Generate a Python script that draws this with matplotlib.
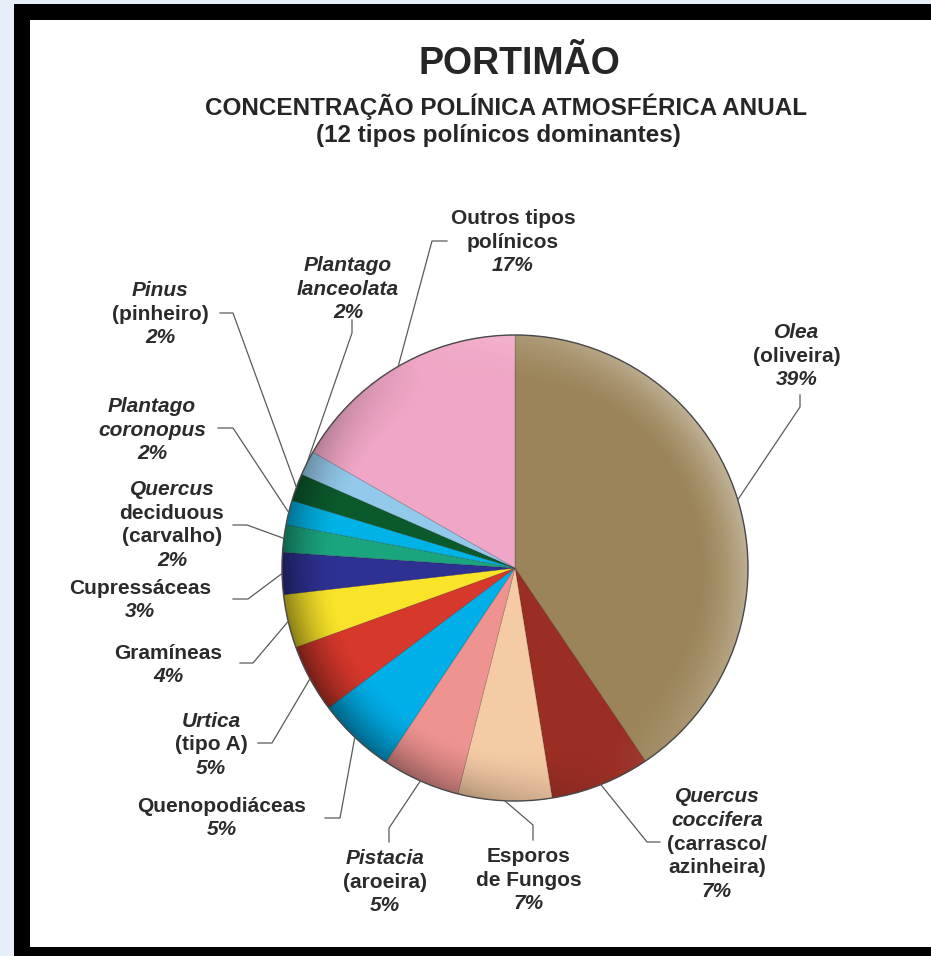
import numpy as np
import matplotlib
matplotlib.use("Agg")
import matplotlib.pyplot as plt
from matplotlib.patches import Rectangle, Circle

plt.rcParams['font.family'] = ['Liberation Sans', 'DejaVu Sans']

W, H = 931, 956

# dados: fatias e rótulos
values = [40.5, 6.9, 6.5, 5.4, 5.4, 4.7, 3.7, 2.9, 1.9, 1.7, 1.9, 1.7, 16.7]
pct_labels = ["39%", "7%", "7%", "5%", "5%", "5%", "4%", "3%", "2%", "2%", "2%", "2%", "17%"]
names = [
    [("Olea", True), ("(oliveira)", False)],
    [("Quercus", True), ("coccifera", True), ("(carrasco/", False), ("azinheira)", False)],
    [("Esporos", False), ("de Fungos", False)],
    [("Pistacia", True), ("(aroeira)", False)],
    [("Quenopodiáceas", False)],
    [("Urtica", True), ("(tipo A)", False)],
    [("Gramíneas", False)],
    [("Cupressáceas", False)],
    [("Quercus", True), ("deciduous", False), ("(carvalho)", False)],
    [("Plantago", True), ("coronopus", True)],
    [("Pinus", True), ("(pinheiro)", False)],
    [("Plantago", True), ("lanceolata", True)],
    [("Outros tipos", False), ("polínicos", False)],
]
colors = ["#9b8459", "#9a2e25", "#f5cba5", "#ee9390", "#00aee8", "#d6382c",
          "#f9e42a", "#2e3192", "#1aa57f", "#00b3e6", "#0b5a2c", "#93c9ea", "#f0a6c6"]

# posições (pixels): centro do texto, cotovelo e ponta da linha de chamada
text_pos = [(797, 356), (717, 844), (529, 880), (385, 882), (222, 818), (211, 745),
            (168, 665), (140, 600), (172, 525), (152, 430), (160, 314), (348, 289), (513, 242)]
elbows = [(800, 407), (647, 842), (533, 825), (389, 828), (340, 818), (272, 743),
          (253, 663), (248, 599), (247, 525), (233, 428), (233, 313), (352, 333), (432, 241)]
tails = [(800, 395), (660, 842), (533, 840), (389, 842), (325, 818), (258, 743),
         (240, 663), (233, 599), (233, 525), (218, 428), (220, 313), (352, 320), (447, 241)]

cx, cy, R = 515, 568, 233


def P(x, y):
    return x, H - y


fig = plt.figure(figsize=(W / 100, H / 100), dpi=100, facecolor="#e6eff9")
ax = fig.add_axes([0, 0, 1, 1])
ax.axis("off")

# moldura
ax.add_patch(Rectangle((14, H - 975), 940, 971, facecolor="black", edgecolor="none", zorder=-3))
ax.add_patch(Rectangle((30, H - 947), 920, 927, facecolor="white", edgecolor="none", zorder=-2))

wedges, _ = ax.pie(values, colors=colors, startangle=90, counterclock=False,
                   center=P(cx, cy), radius=R,
                   wedgeprops=dict(linewidth=0.4, edgecolor="#00000050"))

# sombreado no rebordo
n = 400
xs = np.linspace(-1, 1, n)
X, Y = np.meshgrid(xs, xs[::-1])
r = np.hypot(X, Y)
phi = np.arctan2(Y, X)
t = np.clip((r - 0.78) / 0.22, 0, 1) ** 1.6
s = np.cos(phi - np.radians(25))
rgba = np.zeros((n, n, 4))
light = s > 0
rgba[..., :3] = np.where(light[..., None], 1.0, 0.0)
rgba[..., 3] = np.where(light, 0.38 * t * s, 0.45 * t * (-s))
im = ax.imshow(rgba, extent=(cx - R, cx + R, H - cy - R, H - cy + R), aspect="auto",
               zorder=2, interpolation="bilinear")
clip = Circle(P(cx, cy), R, transform=ax.transData, facecolor="none", edgecolor="none")
ax.add_patch(clip)
im.set_clip_path(clip)
ax.add_patch(Circle(P(cx, cy), R, facecolor="none", edgecolor="#4a4a4a", linewidth=1.0, zorder=3))

# rótulos e linhas de chamada
tc = "#2b2b2b"
lh = 23.7
for i, w in enumerate(wedges):
    mid = np.radians((w.theta1 + w.theta2) / 2)
    ex, ey = cx + R * np.cos(mid), cy - R * np.sin(mid)
    xs_l = [ex, elbows[i][0], tails[i][0]]
    ys_l = [H - ey, H - elbows[i][1], H - tails[i][1]]
    ax.plot(xs_l, ys_l, color="#5a5a5a", linewidth=0.9, zorder=4)
    lines = names[i] + [(pct_labels[i], True)]
    tx, ty = text_pos[i]
    for j, (txt, it) in enumerate(lines):
        yy = ty + (j - (len(lines) - 1) / 2) * lh
        ax.text(tx, H - yy, txt, ha="center", va="center", fontsize=15, fontweight="bold",
                style="italic" if it else "normal", color=tc, zorder=5)

ax.text(*P(519, 64), "PORTIMÃO", ha="center", va="center", fontsize=27,
        fontweight="bold", color="#262626")
ax.text(*P(506, 107), "CONCENTRAÇÃO POLÍNICA ATMOSFÉRICA ANUAL", ha="center", va="center",
        fontsize=17.5, fontweight="bold", color="#262626")
ax.text(*P(498, 135), "(12 tipos polínicos dominantes)", ha="center", va="center",
        fontsize=17.5, fontweight="bold", color="#262626")

ax.set_xlim(0, W)
ax.set_ylim(0, H)

fig.savefig("out.png", dpi=100, facecolor=fig.get_facecolor())
